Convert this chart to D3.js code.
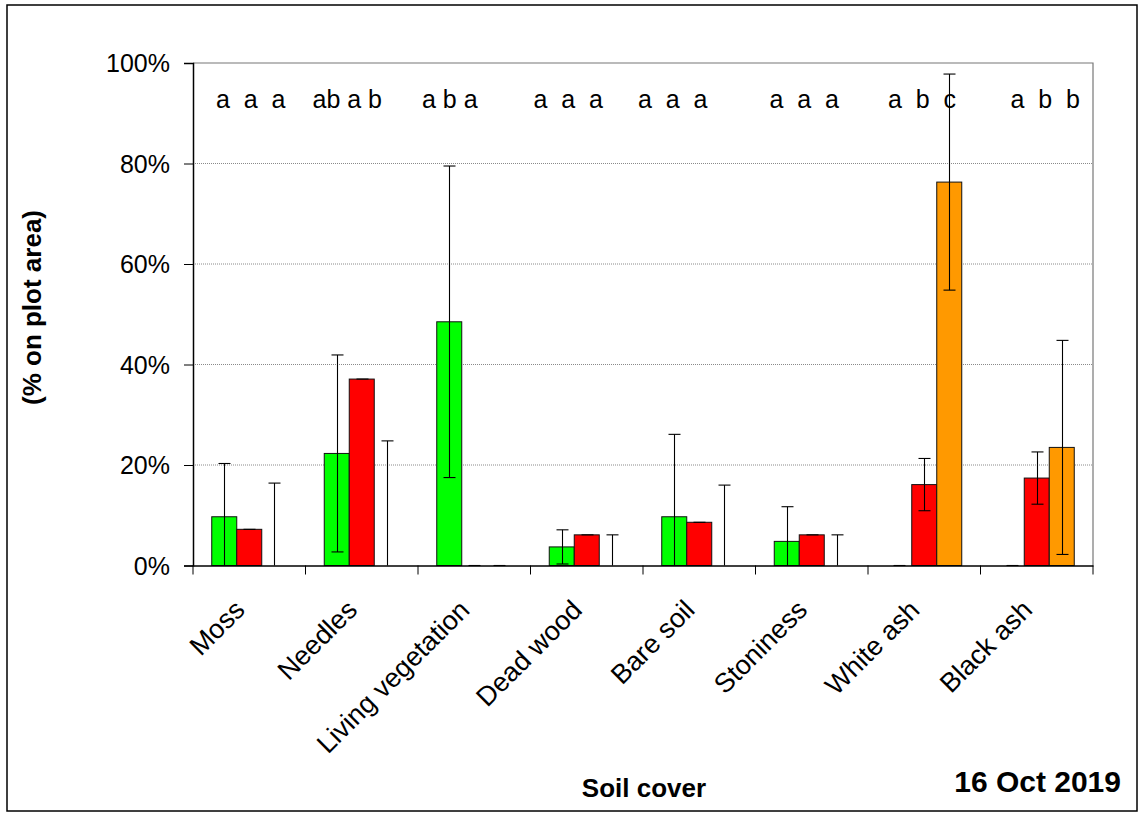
<!DOCTYPE html>
<html>
<head>
<meta charset="utf-8">
<script src="https://cdn.jsdelivr.net/npm/d3@7"></script>
<style>
  html, body { margin: 0; padding: 0; background: #fff; }
  svg { display: block; font-family: Arial, "Liberation Sans", sans-serif; }
</style>
</head>
<body>
<svg id="chart" width="1142" height="814"></svg>
<script>
// ---- data ----
const categories = ["Moss", "Needles", "Living vegetation", "Dead wood", "Bare soil", "Stoniness", "White ash", "Black ash"];
const greenValues  = [9.7, 22.3, 48.5, 3.7, 9.7, 4.8, 0, 0];
const greenErrors  = [10.6, 19.6, 31.0, 3.4, 16.4, 6.9, 0, 0];
const redValues    = [7.2, 37.1, 0, 6.1, 8.6, 6.1, 16.1, 17.4];
const redErrors    = [0, 0, 0, 0, 0, 0, 5.2, 5.2];
const orangeValues = [0, 0, 0, 0, 0, 0, 76.3, 23.5];
const orangeErrors = [16.4, 24.8, 0, 6.1, 16.0, 6.1, 21.5, 21.3];
const letterLabels = ["a  a  a", "ab a b", "a b a", "a  a  a", "a  a  a", "a  a  a", "a  b  c", "a  b  b"];
const yTicks = [0, 20, 40, 60, 80, 100];
const yTitle = "(% on plot area)";
const xTitle = "Soil cover";
const dateLabel = "16 Oct 2019";

// ---- layout ----
const plot = { left: 193, right: 1093, top: 63, bottom: 565.5 };
const letterShift = [23, 7, 4, 3, -5, 14, 20, 30];
const seriesColors = ["#00ff00", "#ff0000", "#ff9900"];

const svg = d3.select("#chart");
const series = [
  { values: greenValues, errors: greenErrors },
  { values: redValues, errors: redErrors },
  { values: orangeValues, errors: orangeErrors }
];

// outer frame
svg.append("rect").attr("x", 7).attr("y", 5).attr("width", 1130).attr("height", 806)
  .attr("fill", "none").attr("stroke", "#000").attr("stroke-width", 1.5);

const x = d3.scaleBand().domain(categories).range([plot.left, plot.right]).paddingInner(0).paddingOuter(0);
const y = d3.scaleLinear().domain([0, 100]).range([plot.bottom, plot.top]);
const inner = d3.scaleBand().domain([0, 1, 2]).range([0, x.bandwidth()]).paddingInner(0).paddingOuter(0.75);

// gridlines
svg.append("g").selectAll("line").data(yTicks.filter(t => t > 0 && t < 100)).join("line")
  .attr("x1", plot.left).attr("x2", plot.right)
  .attr("y1", d => y(d)).attr("y2", d => y(d))
  .attr("stroke", "#8a8a8a").attr("stroke-width", 1).attr("stroke-dasharray", "1,1");

// plot border top/right
svg.append("path")
  .attr("d", `M${plot.left},${y(100)}H${plot.right}V${plot.bottom}`)
  .attr("fill", "none").attr("stroke", "#777").attr("stroke-width", 1.2);

// bars
const barG = svg.append("g");
series.forEach((s, si) => {
  barG.selectAll(null).data(categories.map((c, i) => ({ c, v: s.values[i] })).filter(d => d.v > 0))
    .join("rect")
    .attr("x", d => x(d.c) + inner(si))
    .attr("y", d => y(d.v))
    .attr("width", inner.bandwidth())
    .attr("height", d => y(0) - y(d.v))
    .attr("fill", seriesColors[si])
    .attr("stroke", "#111").attr("stroke-width", 1);
});

// error bars
const errG = svg.append("g").attr("stroke", "#000").attr("stroke-width", 1.1);
const capHalf = 6;
series.forEach((s, si) => {
  categories.forEach((c, i) => {
    const v = s.values[i], e = s.errors[i];
    const cx = Math.round(x(c) + inner(si) + inner.bandwidth() / 2) + 0.5;
    const hi = v + e, lo = Math.max(0, v - e);
    errG.append("line").attr("x1", cx).attr("x2", cx).attr("y1", y(hi)).attr("y2", y(lo));
    errG.append("line").attr("x1", cx - capHalf).attr("x2", cx + capHalf).attr("y1", y(hi)).attr("y2", y(hi));
    if (v - e >= 0 && e > 0) {
      errG.append("line").attr("x1", cx - capHalf).attr("x2", cx + capHalf).attr("y1", y(lo)).attr("y2", y(lo));
    }
  });
});

// y axis
const yAxis = d3.axisLeft(y).tickValues(yTicks).tickFormat(d => d + "%").tickSize(9).tickPadding(14);
const yg = svg.append("g").attr("transform", `translate(${plot.left},0)`).call(yAxis);
yg.select(".domain").attr("stroke", "#000").attr("stroke-width", 1.5);
yg.selectAll(".tick line").attr("stroke", "#000");
yg.selectAll(".tick text").attr("font-size", 25).attr("fill", "#000")
  .attr("font-family", "Arial, 'Liberation Sans', sans-serif").attr("dy", "0.35em");

// x axis
const xAxis = d3.axisBottom(x).tickSize(0).tickFormat("");
const xg = svg.append("g").attr("transform", `translate(0,${plot.bottom})`).call(xAxis);
xg.select(".domain").attr("stroke", "#000").attr("stroke-width", 1.5);
// boundary ticks
svg.append("g").selectAll("line").data(categories.concat(["__end"])).join("line")
  .attr("x1", (d, i) => i < categories.length ? x(d) : plot.right)
  .attr("x2", (d, i) => i < categories.length ? x(d) : plot.right)
  .attr("y1", plot.bottom).attr("y2", plot.bottom + 9)
  .attr("stroke", "#000").attr("stroke-width", 1);

// category labels rotated
svg.append("g").selectAll("text").data(categories).join("text")
  .attr("transform", d => `translate(${x(d) + x.bandwidth() / 2 - 3},${plot.bottom + 46}) rotate(-45)`)
  .attr("text-anchor", "end")
  .attr("font-size", 27).attr("fill", "#000")
  .text(d => d);

// significance letters
svg.append("g").selectAll("text").data(categories).join("text")
  .attr("x", (d, i) => x(d) + letterShift[i])
  .attr("y", 108)
  .attr("font-size", 25).attr("fill", "#000")
  .style("white-space", "pre")
  .text((d, i) => letterLabels[i]);

// axis titles
svg.append("text").attr("transform", "translate(41,307.5) rotate(-90)")
  .attr("text-anchor", "middle").attr("font-size", 26).attr("font-weight", "bold").text(yTitle);
svg.append("text").attr("x", 644).attr("y", 797)
  .attr("text-anchor", "middle").attr("font-size", 26).attr("font-weight", "bold").text(xTitle);
svg.append("text").attr("x", 1121).attr("y", 792)
  .attr("text-anchor", "end").attr("font-size", 30).attr("font-weight", "bold").text(dateLabel);
</script>
</body>
</html>
